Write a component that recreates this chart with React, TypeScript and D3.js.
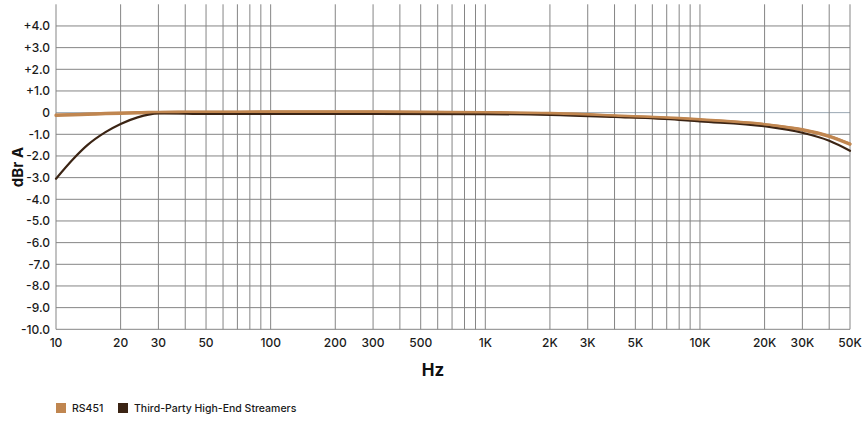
import React from "react";
import * as d3 from "d3";

const freqs = [10, 12, 14, 17, 20, 24, 27, 30, 40, 50, 100, 300, 1000, 2000, 4000, 8000, 10000, 20000, 30000, 40000, 50000];
const rs451 = [-0.13, -0.1, -0.08, -0.05, -0.03, -0.015, -0.005, 0, 0.01, 0.01, 0.02, 0.02, -0.01, -0.05, -0.16, -0.28, -0.34, -0.56, -0.8, -1.1, -1.46];
const thirdParty = [-3.05, -2.15, -1.5, -0.9, -0.52, -0.22, -0.09, -0.04, -0.05, -0.06, -0.06, -0.06, -0.07, -0.1, -0.2, -0.33, -0.4, -0.63, -0.93, -1.3, -1.76];

const gridFreqs = [10, 20, 30, 40, 50, 60, 70, 80, 90, 100, 200, 300, 400, 500, 600, 700, 800, 900, 1000, 2000, 3000, 4000, 5000, 6000, 7000, 8000, 9000, 10000, 20000, 30000, 40000, 50000];
const xTickValues = [10, 20, 30, 50, 100, 200, 300, 500, 1000, 2000, 3000, 5000, 10000, 20000, 30000, 50000];
const xTickLabels = ["10", "20", "30", "50", "100", "200", "300", "500", "1K", "2K", "3K", "5K", "10K", "20K", "30K", "50K"];
const yTickValues = [4, 3, 2, 1, 0, -1, -2, -3, -4, -5, -6, -7, -8, -9, -10];
const yTickLabels = ["+4.0", "+3.0", "+2.0", "+1.0", "0", "-1.0", "-2.0", "-3.0", "-4.0", "-5.0", "-6.0", "-7.0", "-8.0", "-9.0", "-10.0"];

const seriesNames = ["RS451", "Third-Party High-End Streamers"];
const seriesColors = ["#c08650", "#3b2414"];

export default function App() {
  const W = 862, H = 423;
  const x = d3.scaleLog().domain([10, 50000]).range([56, 850]);
  const y = d3.scaleLinear().domain([-10, 5]).range([329.3, 4.3]);
  const line = d3.line<number>()
    .x((_, i) => x(freqs[i]))
    .y((d) => y(d))
    .curve(d3.curveMonotoneX);
  const font = "Inter, 'Noto Sans', sans-serif";
  return (
    <svg width={W} height={H} style={{ position: "absolute", left: 0, top: 0, background: "#fff" }} fontFamily={font}>
      {yTickValues.map((v) => (
        <line key={"h" + v} x1={x(10)} x2={x(50000)} y1={y(v)} y2={y(v)} stroke={v === 0 ? "#9aa7b3" : "#858585"} strokeWidth={1} />
      ))}
      {gridFreqs.map((f) => (
        <line key={"v" + f} x1={x(f)} x2={x(f)} y1={y(5)} y2={y(-10)} stroke="#858585" strokeWidth={1} />
      ))}
      <path d={line(rs451) || ""} fill="none" stroke={seriesColors[0]} strokeWidth={3.2} strokeLinecap="round" />
      <path d={line(thirdParty) || ""} fill="none" stroke={seriesColors[1]} strokeWidth={2.2} strokeLinecap="round" />
      <path d={line(rs451) || ""} fill="none" stroke={seriesColors[0]} strokeWidth={2.6} strokeLinecap="round" transform="translate(0,-0.6)" />
      {yTickValues.map((v, i) => (
        <text key={"yl" + v} x={50} y={y(v)} dy="0.35em" textAnchor="end" fontSize={12} fontWeight={500} fill="#1a1a1a">{yTickLabels[i]}</text>
      ))}
      {xTickValues.map((f, i) => (
        <text key={"xl" + f} x={x(f)} y={347} textAnchor="middle" fontSize={12} fontWeight={500} fill="#1a1a1a">{xTickLabels[i]}</text>
      ))}
      <text x={433} y={376} textAnchor="middle" fontSize={17} fontWeight={700} fill="#111">Hz</text>
      <text transform="translate(23,167) rotate(-90)" textAnchor="middle" fontSize={15} fontWeight={700} fill="#111">dBr A</text>
      <rect x={56} y={403} width={10} height={10} fill={seriesColors[0]} />
      <text x={72} y={412} fontSize={10.5} fontWeight={500} fill="#1a1a1a">{seriesNames[0]}</text>
      <rect x={118} y={403} width={10} height={10} fill={seriesColors[1]} />
      <text x={134} y={412} fontSize={10.5} fontWeight={500} fill="#1a1a1a">{seriesNames[1]}</text>
    </svg>
  );
}
